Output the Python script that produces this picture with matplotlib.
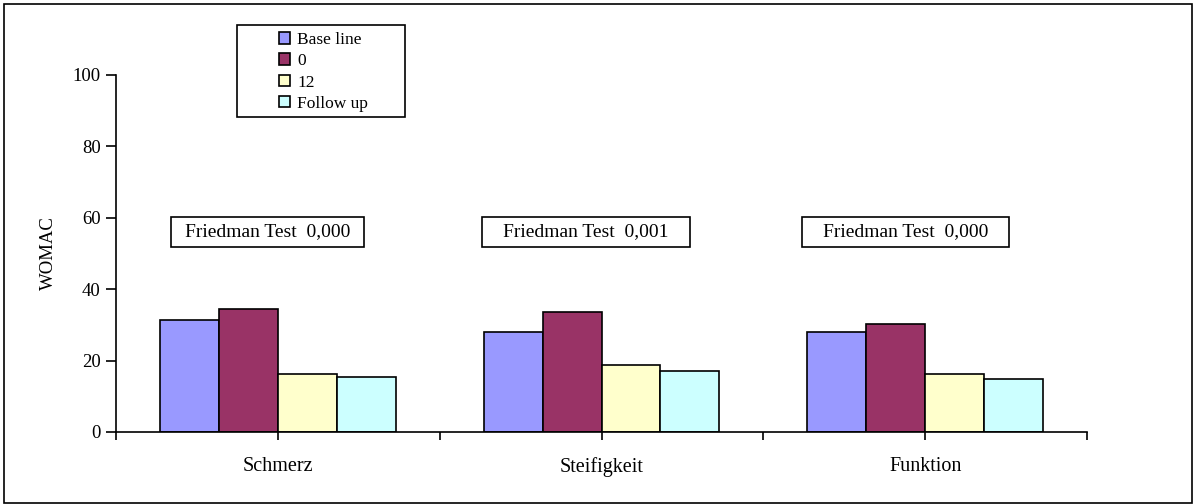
import numpy as np
import matplotlib
matplotlib.use('Agg')
import matplotlib.pyplot as plt
from matplotlib.patches import Rectangle

plt.rcParams['font.family'] = ['Liberation Serif', 'DejaVu Serif']

# WOMAC subscales and the four time points
categories = ['Schmerz', 'Steifigkeit', 'Funktion']
series = ['Base line', '0', '12', 'Follow up']
values = [
    [31.4, 28.1, 28.1],   # Base line
    [34.5, 33.5, 30.2],   # 0
    [16.2, 18.8, 16.2],   # 12
    [15.4, 17.2, 14.9],   # Follow up
]
p_values = ['0,000', '0,001', '0,000']
colors = ['#9999FF', '#993366', '#FFFFCC', '#CCFFFF']

W, H = 1196, 504
fig = plt.figure(figsize=(W/100., H/100.), dpi=100)

# outer frame
fig.patches.append(Rectangle((4./W, 1./H), (1192.-4)/W, (503.-4)/H, transform=fig.transFigure,
                             fill=False, edgecolor='black', linewidth=1.2))

ax_l, ax_r, ax_t, ax_b = 116., 1087., 75., 432.
ax = fig.add_axes([ax_l/W, (H-ax_b)/H, (ax_r-ax_l)/W, (ax_b-ax_t)/H])

x = np.arange(len(categories))
bw = 0.182
for i, (name, vals) in enumerate(zip(series, values)):
    ax.bar(x + (i-1.5)*bw, vals, bw, color=colors[i], edgecolor='black', linewidth=1.2, label=name)

ax.set_xlim(-0.5, len(categories)-0.5)
ax.set_ylim(0, 100)
ax.set_yticks(np.arange(0, 101, 20))
ax.set_xticks(x)
ax.set_xticklabels(categories, fontsize=14.5)
ax.set_xticks(np.arange(-0.5, len(categories), 1.0), minor=True)
ax.tick_params(axis='x', which='both', direction='out', length=6, width=1.2)
ax.tick_params(axis='x', which='major', pad=12)
ax.tick_params(axis='y', direction='out', length=7, width=1.2, labelsize=13.5, pad=4)
ax.set_ylabel('WOMAC', fontsize=13.5, labelpad=11)
for s in ['top', 'right']:
    ax.spines[s].set_visible(False)
for s in ['left', 'bottom']:
    ax.spines[s].set_linewidth(1.2)

# Friedman test boxes above each group
box_x = [(-0.330, 0.266), (0.631, 1.273), (1.619, 2.259)]
for (x0, x1), p in zip(box_x, p_values):
    ax.add_patch(Rectangle((x0, 51.8), x1-x0, 8.4, fill=False, edgecolor='black',
                           linewidth=1.2, clip_on=False))
    ax.text((x0+x1)/2., 56.0, 'Friedman Test  ' + p, ha='center', va='center', fontsize=14)

# legend with its own frame
fig.patches.append(Rectangle((237./W, (H-117.)/H), (405.-237)/W, (117.-25)/H, transform=fig.transFigure,
                             fill=False, edgecolor='black', linewidth=1.2))
leg = ax.legend(loc='upper left', bbox_to_anchor=(267./W, (H-20.)/H), bbox_transform=fig.transFigure,
                frameon=False, fontsize=12.5, handlelength=0.65, handleheight=0.65,
                handletextpad=0.4, labelspacing=0.3, borderpad=0.2)

fig.savefig('out.png', dpi=100)
